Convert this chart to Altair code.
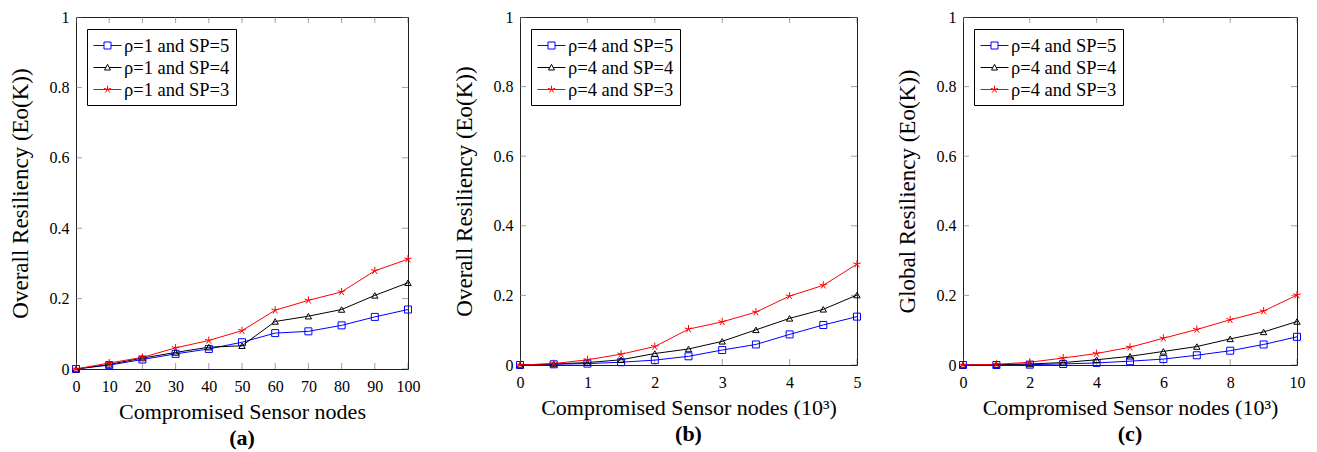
import altair as alt
import pandas as pd

FONT = "Liberation Serif"

# ---- data ----
a_x = [0, 10, 20, 30, 40, 50, 60, 70, 80, 90, 100]
a_sp5 = [0, 0.011, 0.027, 0.043, 0.057, 0.076, 0.102, 0.107, 0.124, 0.148, 0.169]
a_sp4 = [0, 0.013, 0.031, 0.047, 0.062, 0.066, 0.135, 0.150, 0.169, 0.209, 0.245]
a_sp3 = [0, 0.017, 0.033, 0.060, 0.081, 0.109, 0.167, 0.195, 0.219, 0.279, 0.312]

b_x = [0, 0.5, 1, 1.5, 2, 2.5, 3, 3.5, 4, 4.5, 5]
b_sp5 = [0, 0.002, 0.004, 0.008, 0.014, 0.025, 0.043, 0.059, 0.088, 0.115, 0.139]
b_sp4 = [0, 0.003, 0.007, 0.015, 0.033, 0.046, 0.068, 0.101, 0.134, 0.160, 0.201]
b_sp3 = [0, 0.004, 0.015, 0.031, 0.053, 0.103, 0.124, 0.152, 0.198, 0.229, 0.290]

c_x = [0, 1, 2, 3, 4, 5, 6, 7, 8, 9, 10]
c_sp5 = [0, 0, 0.001, 0.003, 0.006, 0.011, 0.017, 0.028, 0.041, 0.059, 0.081]
c_sp4 = [0, 0.001, 0.003, 0.007, 0.015, 0.025, 0.039, 0.053, 0.075, 0.095, 0.125]
c_sp3 = [0, 0.002, 0.008, 0.020, 0.033, 0.051, 0.077, 0.102, 0.130, 0.155, 0.201]

a_labels = ["ρ=1 and SP=5", "ρ=1 and SP=4", "ρ=1 and SP=3"]
bc_labels = ["ρ=4 and SP=5", "ρ=4 and SP=4", "ρ=4 and SP=3"]

a_xticks = [0, 10, 20, 30, 40, 50, 60, 70, 80, 90, 100]
b_xticks = [0, 1, 2, 3, 4, 5]
c_xticks = [0, 2, 4, 6, 8, 10]
y_ticks = [0, 0.2, 0.4, 0.6, 0.8, 1]

colors = ["#0000ff", "#000000", "#ff0000"]

STAR = "M0,0L0,-1M0,0L-0.951,-0.309M0,0L-0.588,0.809M0,0L0.588,0.809M0,0L0.951,-0.309"
marker_shapes = ["square", "triangle-up", STAR]
marker_sizes = [49, 40, 64]

LEG_SQ = "M-1.4,0L-0.35,0M0.35,0L1.4,0M-0.35,-0.35L0.35,-0.35L0.35,0.35L-0.35,0.35Z"
LEG_TRI = "M-1.4,0L-0.17,0M0.17,0L1.4,0M0,-0.32L0.3,0.25L-0.3,0.25Z"
LEG_STAR = ("M-1.4,0L1.4,0M0,0L0,-0.38M0,0L-0.361,-0.117M0,0L-0.223,0.307"
            "M0,0L0.223,0.307M0,0L0.361,-0.117")
legend_paths = [LEG_SQ, LEG_TRI, LEG_STAR]


def panel(xs, series, labels, xticks, xmax, xtitle, ytitle, tag, w, h):
    rows = []
    for lab, vals in zip(labels, series):
        for xv, yv in zip(xs, vals):
            rows.append({"x": xv, "y": yv, "s": lab})
    df = pd.DataFrame(rows)

    xenc = alt.X("x:Q",
                 scale=alt.Scale(domain=[0, xmax], nice=False, zero=False),
                 axis=alt.Axis(values=xticks, format="~r", title=xtitle,
                               labelFlush=False, labelOverlap=False,
                               labelPadding=9, titlePadding=7, titleFontSize=22))
    yenc = alt.Y("y:Q",
                 scale=alt.Scale(domain=[0, 1], nice=False),
                 axis=alt.Axis(values=y_ticks, format="~r", title=ytitle,
                               labelFlush=False, labelOverlap=False,
                               labelPadding=7, titlePadding=17, titleFontSize=23))

    leg = alt.Legend(
        title=None, orient="none", legendX=11, legendY=12,
        strokeColor="black", fillColor="white", padding=6,
        labelFont=FONT, labelFontSize=18.5, labelColor="black",
        symbolSize=400, symbolStrokeWidth=1, symbolOffset=4,
        symbolFillColor="transparent",
        labelOffset=6, rowPadding=2,
    )
    color = alt.Color("s:N", scale=alt.Scale(domain=labels, range=colors), legend=leg)
    shape = alt.Shape("s:N", scale=alt.Scale(domain=labels, range=legend_paths), legend=leg)

    lines = alt.Chart(df).mark_line(strokeWidth=1).encode(x=xenc, y=yenc, color=color)

    pts = []
    for lab, shp, col, sz in zip(labels, marker_shapes, colors, marker_sizes):
        pts.append(
            alt.Chart(df).transform_filter(alt.datum.s == lab)
            .mark_point(filled=False, strokeWidth=1, size=sz, opacity=1, shape=shp, color=col)
            .encode(x=xenc, y=yenc)
        )

    # invisible layer that only carries the legend (line + marker symbols)
    legend_layer = (
        alt.Chart(df).transform_filter("false")
        .mark_point(filled=False, strokeWidth=1, opacity=1)
        .encode(x=xenc, y=yenc, color=color, shape=shape)
    )

    tdx = pd.DataFrame({"x": xticks})
    tdy = pd.DataFrame({"y": y_ticks})
    ts = dict(size=12, thickness=1, clip=True, color="#777777")
    bottom = alt.Chart(tdx).mark_tick(orient="vertical", **ts).encode(x=xenc, y=alt.value(h))
    top = alt.Chart(tdx).mark_tick(orient="vertical", **ts).encode(x=xenc, y=alt.value(0))
    left = alt.Chart(tdy).mark_tick(orient="horizontal", **ts).encode(y=yenc, x=alt.value(0))
    right = alt.Chart(tdy).mark_tick(orient="horizontal", **ts).encode(y=yenc, x=alt.value(w))

    return alt.layer(bottom, top, left, right, lines, *pts, legend_layer).properties(
        width=w, height=h,
        title=alt.TitleParams(tag, orient="bottom", font=FONT, fontSize=22,
                              fontWeight="bold", color="black", offset=6),
    )


pa = panel(a_x, [a_sp5, a_sp4, a_sp3], a_labels, a_xticks, 100,
           "Compromised Sensor nodes", "Overall Resiliency (Eo(K))", "(a)", 332, 352)
pb = panel(b_x, [b_sp5, b_sp4, b_sp3], bc_labels, b_xticks, 5,
           "Compromised Sensor nodes (10³)", "Overall Resiliency (Eo(K))", "(b)", 337, 348)
pc = panel(c_x, [c_sp5, c_sp4, c_sp3], bc_labels, c_xticks, 10,
           "Compromised Sensor nodes (10³)", "Global Resiliency (Eo(K))", "(c)", 334, 348)

chart = (
    alt.hconcat(pa, pb, pc, spacing=31)
    .resolve_scale(color="independent", shape="independent", x="independent", y="independent")
    .resolve_legend(color="independent", shape="independent")
    .properties(padding={"left": 0, "top": 0, "right": 2, "bottom": 0}, background="white")
    .configure_view(stroke="#222222", strokeWidth=1)
    .configure_axis(
        labelFont=FONT, titleFont=FONT, labelFontSize=16, titleFontSize=22,
        titleFontWeight="normal", labelColor="black", titleColor="black",
        ticks=False, domain=False, grid=False,
    )
)

chart.save("out.html", embed_options={"renderer": "svg", "actions": False})
